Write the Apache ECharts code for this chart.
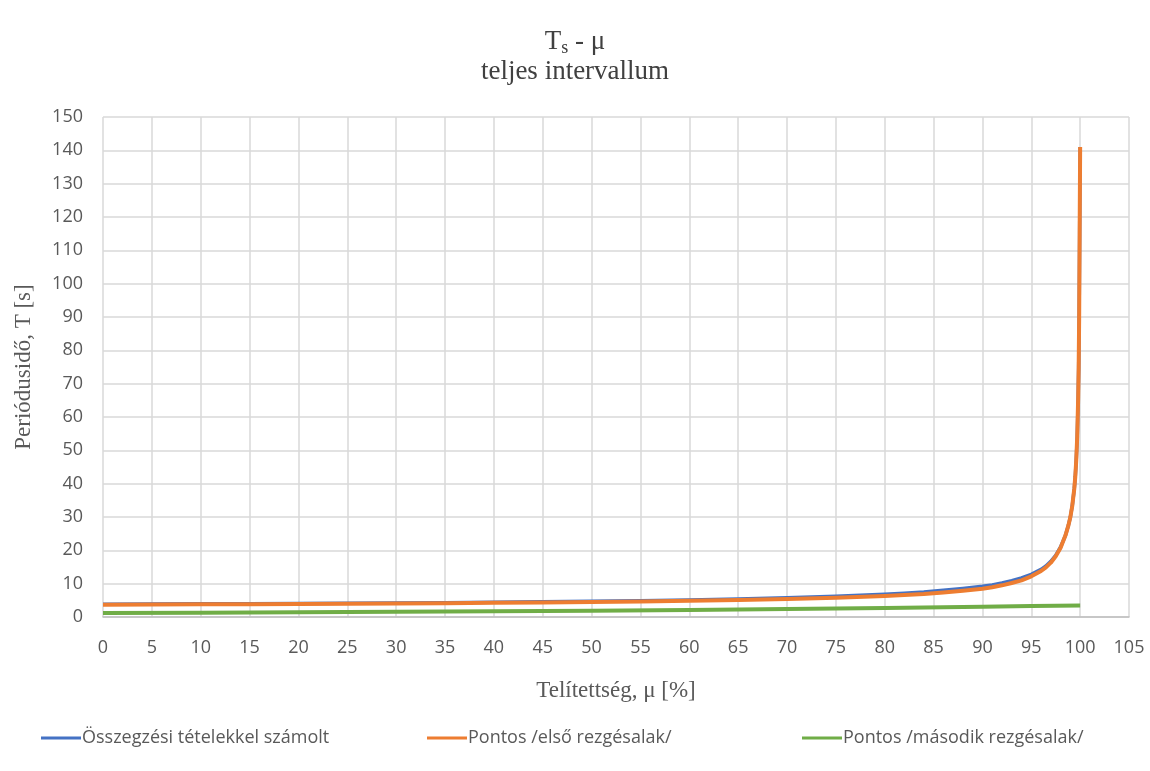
<!DOCTYPE html>
<html>
<head>
<meta charset="utf-8">
<script src="https://cdn.jsdelivr.net/npm/echarts@6/dist/echarts.min.js"></script>
<style>
  html, body { margin: 0; padding: 0; background: #ffffff; }
  #chart { width: 1150px; height: 771px; }
</style>
</head>
<body>
<div id="chart"></div>
<script>
// Saturation values (μ, %) for the first-mode curves
const muFirst = [0, 5, 10, 15, 20, 25, 30, 35, 40, 45, 50, 55, 60, 65, 70, 75, 80, 82, 84, 86, 88, 90, 91, 92, 93, 94, 95, 96, 96.5, 97, 97.5, 98, 98.5, 98.8, 99, 99.2, 99.4, 99.5, 99.6, 99.7, 99.8, 99.85, 99.9, 99.95, 100];
// Period from the summation formulas [s]
const tSummation = [3.85, 3.9, 3.95, 4.0, 4.05, 4.15, 4.2, 4.3, 4.4, 4.55, 4.7, 4.9, 5.1, 5.4, 5.75, 6.2, 6.8, 7.15, 7.5, 8.0, 8.55, 9.2, 9.6, 10.2, 10.9, 11.7, 12.8, 14.3, 15.3, 16.7, 18.5, 21, 24.5, 27.5, 30, 33.5, 38.5, 42, 47, 54, 66, 75, 90, 115, 141];
// Exact period, first vibration mode [s]
const tExactFirst = [3.7, 3.75, 3.8, 3.85, 3.9, 4.0, 4.05, 4.15, 4.25, 4.35, 4.5, 4.65, 4.85, 5.1, 5.4, 5.8, 6.3, 6.6, 6.9, 7.35, 7.9, 8.5, 8.95, 9.5, 10.2, 11.0, 12.2, 13.8, 14.9, 16.3, 18.2, 20.8, 24.5, 27.5, 30, 33.5, 38.5, 42, 47, 54, 66, 75, 90, 115, 141];
// Saturation values for the second-mode curve
const muSecond = [0, 10, 20, 30, 40, 50, 60, 70, 80, 90, 95, 100];
// Exact period, second vibration mode [s]
const tExactSecond = [1.2, 1.3, 1.4, 1.55, 1.7, 1.9, 2.1, 2.4, 2.7, 3.1, 3.3, 3.45];

const seriesNames = ['Összegzési tételekkel számolt', 'Pontos /első rezgésalak/', 'Pontos /második rezgésalak/'];
const seriesColors = ['#4472C4', '#ED7D31', '#70AD47'];

const pairs = (xs, ys) => xs.map((x, i) => [x, ys[i]]);

const chart = echarts.init(document.getElementById('chart'), null, { renderer: 'canvas' });

const labelColor = '#595959';
const sansFont = '"Open Sans", "Noto Sans", sans-serif';
const serifFont = '"Liberation Serif", "DejaVu Serif", serif';

function legendAt(name, left) {
  return {
    data: [name],
    left: left,
    top: 724,
    icon: 'rect',
    itemWidth: 40,
    itemHeight: 3,
    itemGap: 0,
    textStyle: { color: labelColor, fontFamily: sansFont, fontSize: 18, padding: [0, 0, 0, -4] }
  };
}

chart.setOption({
  animation: false,
  backgroundColor: '#ffffff',
  title: {
    text: '{t|T}{s|s}{t| - μ}\n{t|teljes intervallum}',
    left: 'center',
    top: 22,
    textStyle: {
      fontWeight: 'normal',
      rich: {
        t: { fontFamily: serifFont, fontSize: 27, fontWeight: 'normal', color: '#404040', lineHeight: 30 },
        s: { fontFamily: serifFont, fontSize: 18, fontWeight: 'normal', color: '#404040', verticalAlign: 'bottom', padding: [14, 0, 0, 0], lineHeight: 30 }
      }
    }
  },
  legend: [
    legendAt(seriesNames[0], 36),
    legendAt(seriesNames[1], 422),
    legendAt(seriesNames[2], 797)
  ],
  grid: { left: 103, right: 21, top: 117, bottom: 154, containLabel: false },
  xAxis: {
    type: 'value',
    min: 0,
    max: 105,
    interval: 5,
    name: 'Telítettség, μ [%]',
    nameLocation: 'middle',
    nameGap: 62,
    nameTextStyle: { fontFamily: serifFont, fontSize: 23, color: labelColor },
    axisLine: { show: true, lineStyle: { color: '#bfbfbf', width: 1.5 } },
    axisTick: { show: false },
    axisLabel: { color: labelColor, fontFamily: sansFont, fontSize: 18, margin: 22 },
    splitLine: { show: true, lineStyle: { color: '#d9d9d9', width: 1.5 } }
  },
  yAxis: {
    type: 'value',
    min: 0,
    max: 150,
    interval: 10,
    name: 'Periódusidő, T [s]',
    nameLocation: 'middle',
    nameGap: 68,
    nameTextStyle: { fontFamily: serifFont, fontSize: 23, color: labelColor },
    axisLine: { show: false },
    axisTick: { show: false },
    axisLabel: { color: labelColor, fontFamily: sansFont, fontSize: 18, margin: 20 },
    splitLine: { show: true, lineStyle: { color: '#d9d9d9', width: 1.5 } }
  },
  series: [
    {
      name: seriesNames[0],
      type: 'line',
      data: pairs(muFirst, tSummation),
      symbol: 'none',
      lineStyle: { color: seriesColors[0], width: 3.5, join: 'round' },
      itemStyle: { color: seriesColors[0] },
      z: 2
    },
    {
      name: seriesNames[1],
      type: 'line',
      data: pairs(muFirst, tExactFirst),
      symbol: 'none',
      lineStyle: { color: seriesColors[1], width: 4, join: 'round' },
      itemStyle: { color: seriesColors[1] },
      z: 3
    },
    {
      name: seriesNames[2],
      type: 'line',
      data: pairs(muSecond, tExactSecond),
      symbol: 'none',
      lineStyle: { color: seriesColors[2], width: 4, join: 'round' },
      itemStyle: { color: seriesColors[2] },
      z: 4
    }
  ]
});
</script>
</body>
</html>
